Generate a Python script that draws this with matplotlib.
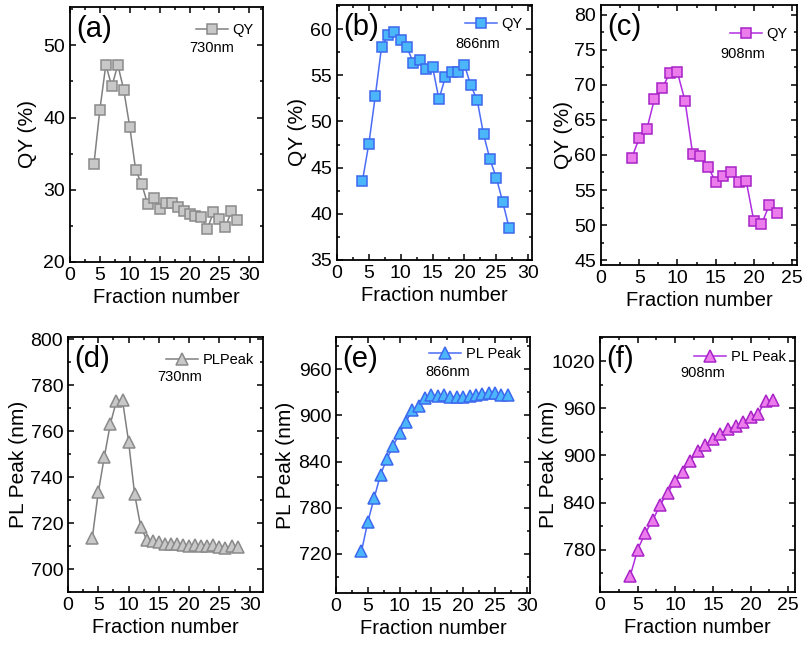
import numpy as np
import matplotlib.pyplot as plt
from matplotlib.ticker import MultipleLocator, AutoMinorLocator

plt.rcParams['font.family'] = ['Liberation Sans', 'DejaVu Sans']

# fracciones y datos
frac_730 = list(range(4, 29))
qy_730 = [33.5, 41.1, 47.3, 44.3, 47.3, 43.8, 38.7, 32.7, 30.8, 28.0, 28.8, 27.4, 28.2,
          28.2, 27.6, 27.1, 26.6, 26.3, 26.2, 24.6, 26.9, 25.9, 24.8, 27.0, 25.8]
pl_730 = [713.4, 733.4, 748.8, 763.3, 773.1, 773.5, 755.5, 732.6, 718.5, 712.7, 712.3, 711.6,
          710.9, 710.9, 710.9, 710.6, 710.1, 710.6, 710.1, 710.1, 710.6, 709.8, 709.1, 710.1, 709.8]

frac_866 = list(range(4, 28))
qy_866 = [43.6, 47.6, 52.7, 58.1, 59.3, 59.7, 58.8, 58.0, 56.3, 56.7, 55.7, 55.9, 52.4,
          54.8, 55.4, 55.4, 56.1, 53.9, 52.3, 48.6, 45.9, 43.9, 41.3, 38.5]
pl_866 = [723.0, 761.5, 792.6, 822.9, 843.7, 860.5, 877.0, 892.0, 906.4, 912.4, 922.4, 926.7,
          925.4, 926.7, 923.7, 924.5, 923.7, 925.4, 926.7, 928.0, 929.7, 928.9, 926.7, 926.7]

frac_908 = list(range(4, 24))
qy_908 = [59.5, 62.4, 63.7, 68.0, 69.5, 71.7, 71.8, 67.7, 60.1, 59.8, 58.3, 56.2, 57.0,
          57.6, 56.2, 56.3, 50.6, 50.1, 52.8, 51.7]
pl_908 = [746.0, 780.0, 801.0, 817.4, 837.3, 852.6, 867.5, 879.0, 893.0, 905.3, 913.0, 921.4,
          927.8, 934.2, 937.2, 942.7, 949.0, 953.3, 969.5, 970.3]

gris = dict(line='#808080', face='#c8c8c8', edge='#8a8a8a')
azul = dict(line='#4a6cf7', face='#4cb6fb', edge='#3c68ee')
magenta = dict(line='#b02de0', face='#ec7cec', edge='#a822c8')

fig = plt.figure(figsize=(8.05, 6.46), dpi=100)


def panel(caja, x, y, col, marcador, leyenda, nm, letra, xlim, ylim, ymayor, ylabel,
          pos_nm, pos_ylabel, y_ley):
    l, r, t, b = caja
    ax = fig.add_axes([l/805, 1-b/646, (r-l)/805, (b-t)/646])
    ms = 7.3 if marcador == 's' else 8.8
    ax.plot(x, y, color=col['line'], lw=1.1, marker=marcador, ms=ms,
            mfc=col['face'], mec=col['edge'], mew=1.1, label=leyenda)
    ax.set_xlim(*xlim)
    ax.set_ylim(*ylim)
    ax.xaxis.set_major_locator(MultipleLocator(5))
    ax.yaxis.set_major_locator(MultipleLocator(ymayor))
    ax.xaxis.set_minor_locator(AutoMinorLocator(2))
    ax.yaxis.set_minor_locator(AutoMinorLocator(2))
    ax.tick_params(which='both', direction='in', top=True, right=True, labelsize=14)
    ax.tick_params(which='major', length=4, width=1.1)
    ax.tick_params(which='minor', length=2, width=1.1)
    for s in ax.spines.values():
        s.set_linewidth(1.3)
    ax.set_xlabel('Fraction number', fontsize=14.5, labelpad=3)
    ax.set_ylabel(ylabel, fontsize=15)
    ax.yaxis.set_label_coords(pos_ylabel, 0.5)
    ax.legend(loc='upper right', frameon=False, fontsize=10.5, handlelength=2.2,
              handletextpad=0.3, borderaxespad=0.25, bbox_to_anchor=(1.0, y_ley))
    ax.text(pos_nm[0], pos_nm[1], nm, transform=ax.transAxes, fontsize=10.5,
            va='center', ha='left')
    ax.text(0.03, 0.915, letra, transform=ax.transAxes, fontsize=21, va='center', ha='left')
    return ax


panel((70, 263, 7, 262), frac_730, qy_730, gris, 's', 'QY', '730nm', '(a)',
      (0, 32.3), (20, 55.3), 10, 'QY (%)', (0.62, 0.84), -0.17, 0.975)
panel((337, 532, 5, 260), frac_866, qy_866, azul, 's', 'QY', '866nm', '(b)',
      (0, 30.6), (35, 62.6), 5, 'QY (%)', (0.605, 0.847), -0.155, 0.99)
panel((601, 797, 5, 265), frac_908, qy_908, magenta, 's', 'QY', '908nm', '(c)',
      (0, 25.65), (44.3, 81.4), 5, 'QY (%)', (0.607, 0.81), -0.145, 0.952)
panel((68, 263, 337, 592), frac_730, pl_730, gris, '^', 'PLPeak', '730nm', '(d)',
      (0, 32.2), (690, 801), 20, 'PL Peak (nm)', (0.456, 0.843), -0.205, 0.975)
panel((336, 530, 337, 593), frac_866, pl_866, azul, '^', 'PL Peak', '866nm', '(e)',
      (0, 30.5), (669, 1002), 60, 'PL Peak (nm)', (0.459, 0.863), -0.21, 0.998)
panel((600, 795, 337, 592), frac_908, pl_908, magenta, '^', 'PL Peak', '908nm', '(f)',
      (0, 25.9), (726, 1051), 60, 'PL Peak (nm)', (0.41, 0.86), -0.215, 0.987)

fig.savefig('out.png', dpi=100)
